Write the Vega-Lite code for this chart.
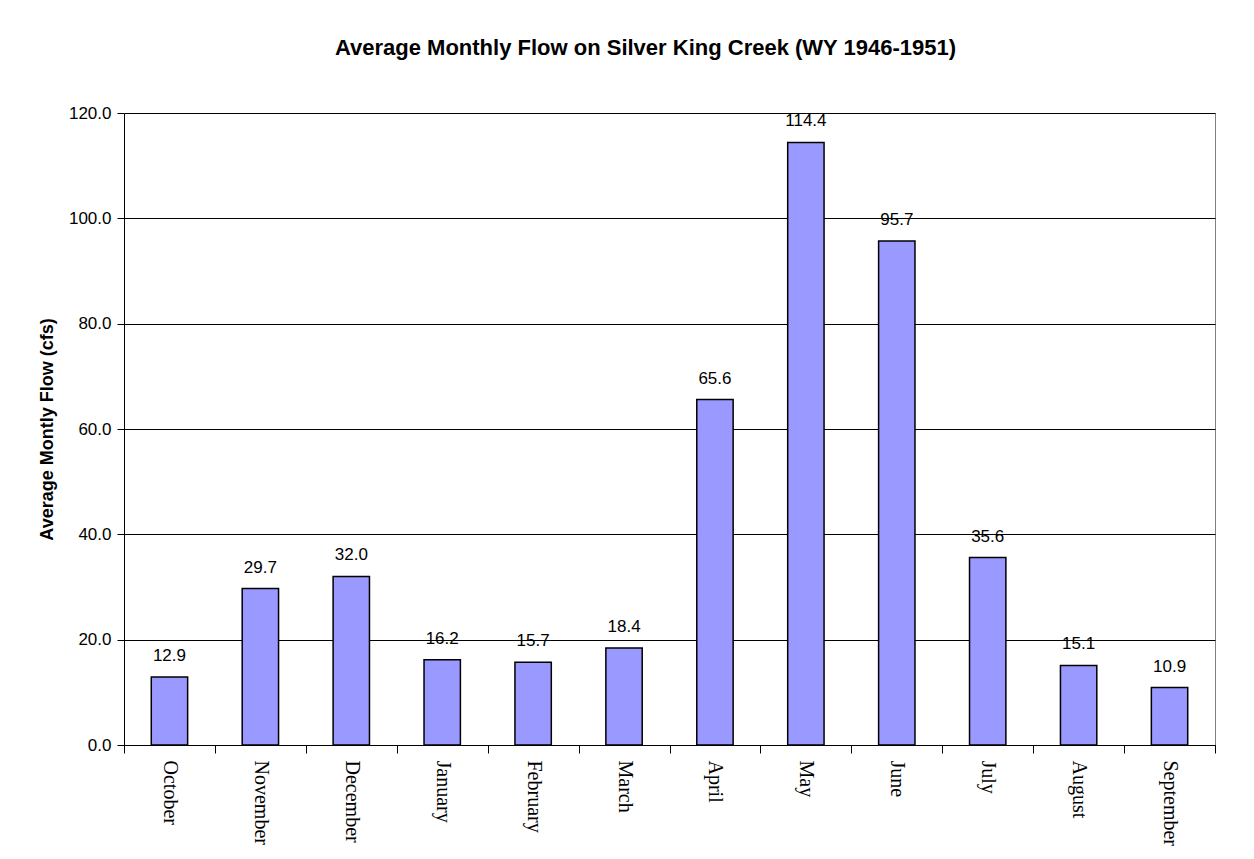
{
  "$schema": "https://vega.github.io/schema/vega-lite/v6.json",
  "width": 1091,
  "height": 632,
  "autosize": {"type": "none"},
  "padding": {"left": 124, "top": 113, "right": 39, "bottom": 114},
  "background": "white",
  "title": {
    "text": "Average Monthly Flow on Silver King Creek (WY 1946-1951)",
    "font": "Liberation Sans",
    "fontSize": 22,
    "fontWeight": "bold",
    "color": "black",
    "anchor": "middle",
    "dx": -24,
    "offset": 44
  },
  "config": {
    "view": {"stroke": "#808080", "strokeWidth": 1},
    "axis": {"domainColor": "black", "tickColor": "black", "labelColor": "black", "titleColor": "black"}
  },
  "data": {
    "values": [
      {"month": "October", "flow": 12.9},
      {"month": "November", "flow": 29.7},
      {"month": "December", "flow": 32.0},
      {"month": "January", "flow": 16.2},
      {"month": "February", "flow": 15.7},
      {"month": "March", "flow": 18.4},
      {"month": "April", "flow": 65.6},
      {"month": "May", "flow": 114.4},
      {"month": "June", "flow": 95.7},
      {"month": "July", "flow": 35.6},
      {"month": "August", "flow": 15.1},
      {"month": "September", "flow": 10.9}
    ]
  },
  "encoding": {
    "x": {
      "field": "month",
      "type": "nominal",
      "sort": null,
      "scale": {"paddingInner": 0, "paddingOuter": 0},
      "axis": {
        "title": null,
        "labelAngle": 90,
        "labelAlign": "left",
        "labelBaseline": "middle",
        "labelFont": "Liberation Serif",
        "labelFontSize": 20,
        "labelPadding": 7,
        "tickBand": "extent",
        "tickSize": 8,
        "domainColor": "black"
      }
    },
    "y": {
      "field": "flow",
      "type": "quantitative",
      "scale": {"domain": [0, 120], "nice": false},
      "axis": {
        "title": "Average Montly Flow (cfs)",
        "titleFont": "Liberation Sans",
        "titleFontSize": 18,
        "titleFontWeight": "bold",
        "titlePadding": 12,
        "values": [0, 20, 40, 60, 80, 100, 120],
        "format": ".1f",
        "labelFont": "Liberation Sans",
        "labelFontSize": 17,
        "labelPadding": 6,
        "tickSize": 7,
        "grid": true,
        "gridColor": "black",
        "gridOpacity": 1
      }
    }
  },
  "layer": [
    {
      "mark": {"type": "bar", "width": {"band": 0.4}, "color": "#9999FF", "stroke": "black", "strokeWidth": 1.5}
    },
    {
      "mark": {"type": "text", "dy": -12, "baseline": "bottom", "font": "Liberation Sans", "fontSize": 17, "color": "black"},
      "encoding": {"text": {"field": "flow", "type": "quantitative", "format": ".1f"}}
    }
  ]
}
